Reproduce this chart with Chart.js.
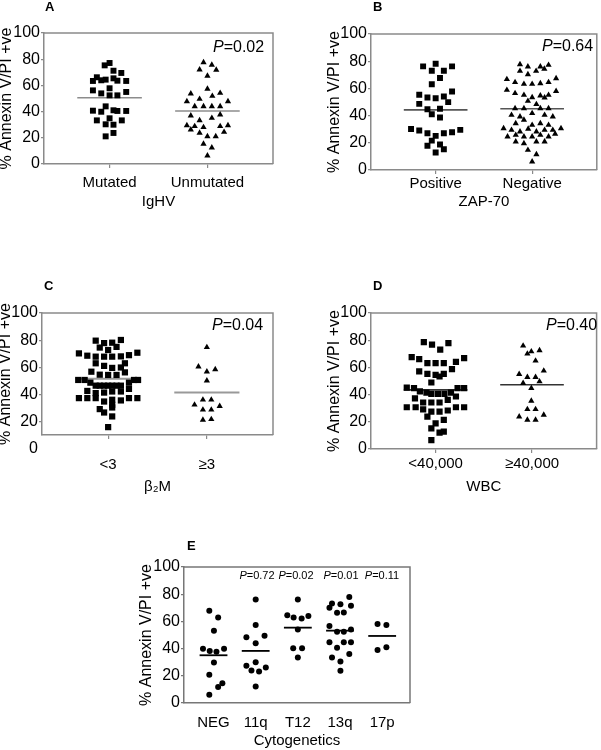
<!DOCTYPE html>
<html>
<head>
<meta charset="utf-8">
<script src="https://cdn.jsdelivr.net/npm/chart.js@4.4.1/dist/chart.umd.min.js"></script>
<style>
html,body{margin:0;padding:0;background:#fff;}
body{width:601px;height:750px;position:relative;overflow:hidden;font-family:"Liberation Sans",Arial,sans-serif;color:#000;}
canvas{position:absolute;}
.lbl{position:absolute;font-weight:bold;font-size:13px;line-height:15px;}
.pv{position:absolute;font-size:16px;line-height:18px;white-space:nowrap;}
.pvs{position:absolute;font-size:11px;line-height:13px;white-space:nowrap;transform:translateX(-50%);}
</style>
</head>
<body>
<canvas id="cA" width="304" height="215" style="left:-4px;top:0px"></canvas>
<canvas id="cB" width="301" height="215" style="left:300px;top:0px"></canvas>
<canvas id="cC" width="304" height="230" style="left:-4px;top:270px"></canvas>
<canvas id="cD" width="301" height="230" style="left:300px;top:270px"></canvas>
<canvas id="cE" width="310" height="210" style="left:130px;top:540px"></canvas>

<div class="lbl" style="left:45px;top:-1px">A</div>
<div class="lbl" style="left:373px;top:-1px">B</div>
<div class="lbl" style="left:44px;top:278px">C</div>
<div class="lbl" style="left:373px;top:278px">D</div>
<div class="lbl" style="left:187px;top:538px">E</div>

<div class="pv" style="left:213px;top:38px"><i>P</i>=0.02</div>
<div class="pv" style="left:542px;top:37px"><i>P</i>=0.64</div>
<div class="pv" style="left:212px;top:316px"><i>P</i>=0.04</div>
<div class="pv" style="left:546px;top:316px"><i>P</i>=0.40</div>
<div id="pE"></div>

<script>
// ---------- shared axis ticks ----------
const yTicks = [0, 20, 40, 60, 80, 100];

// ---------- Panel A : IgHV ----------
const catsA = ['Mutated', 'Unmutated'];
const mutatedY  = [75.3,77.1,71.2,69.5,66.2,65.4,63.4,63.9,64.4,63.6,63.4,56.2,57.8,55.0,53.9,52.4,52.4,40.7,39.9,44.0,41.0,40.5,40.5,33.3,34.9,33.3,30.3,30.0,23.7,21.1];
const mutatedDx = [-0.05,0,0.04,0.12,-0.13,0.04,-0.17,-0.085,-0.04,0.08,0.17,-0.17,0,0.17,-0.085,0,0.08,-0.17,-0.085,-0.04,0.04,0.08,0.17,-0.13,0,0.125,-0.04,0.04,0.04,-0.04];
const unmutatedY  = [77.6,75.6,72.0,71.8,67.2,57.3,53.7,54.2,51.9,49.6,47.8,47.8,44.0,44.0,44.0,44.0,36.9,35.1,37.7,33.3,29.5,28.8,28.0,28.8,29.5,26.2,23.7,24.4,21.1,21.1,15.3,12.5,6.4];
const unmutatedDx = [-0.04,0.045,-0.08,0.09,0,0,-0.17,0.13,0.05,-0.08,-0.21,0.21,-0.13,-0.04,0.045,0.13,-0.17,0.045,0.13,-0.08,-0.21,-0.13,-0.04,0.13,0.21,-0.17,-0.08,0.17,0,0.085,-0.04,0.045,0];
const meansA = [50.6, 40.5];

// ---------- Panel B : ZAP-70 ----------
const catsB = ['Positive', 'Negative'];
const positiveY  = [76.2,78.1,76.2,73.0,73.0,67.6,63.1,55.3,53.3,52.8,54.1,57.7,48.6,49.9,44.7,45.0,41.0,38.6,30.2,29.0,27.0,25.1,27.0,27.8,29.5,21.6,17.9,18.7,15.2,12.8];
const positiveDx = [-0.13,0,0.17,-0.04,0.085,0.045,-0.04,-0.17,-0.085,0,0.085,0.17,-0.17,0.13,-0.085,0.045,-0.04,0.045,-0.255,-0.17,-0.085,0,0.085,0.17,0.255,-0.04,-0.085,0.045,0.085,0];
const negativeY  = [77.7,76.0,76.0,77.2, 72.8,70.3,72.8,74.3, 66.7,64.5,63.2,63.2,63.7,64.5,67.4, 58.8,56.4,55.1,53.4,54.7,53.2,55.1,58.0, 50.7,48.3, 45.3,45.3,45.3,45.3, 40.4,39.2,41.7,40.4,39.2, 34.3,36.8,33.1,34.3,33.1, 30.6,29.4,28.2,30.2,28.2,29.4,29.4,30.6, 24.5,25.7,24.5,24.5,25.7,24.5,26.5, 20.8,19.6,20.8,20.8, 14.7,11.5, 6.1];
const negativeDx = [-0.126,-0.044,0.085,0.170, -0.126,-0.044,0.041,0.126, -0.262,-0.177,-0.085,0,0.085,0.170,0.248, -0.262,-0.177,-0.085,0,0.085,0.129,0.170,0.248, -0.044,0.044, -0.177,-0.085,0.085,0.170, -0.214,-0.126,0,0.129,0.214, -0.170,-0.085,0,0.085,0.170, -0.296,-0.214,-0.126,-0.041,0.044,0.129,0.214,0.299, -0.255,-0.170,-0.085,0,0.085,0.170,0.238, -0.170,-0.085,0.044,0.129, -0.044,0.044, 0];
const meansB = [44.2, 45.0];

// ---------- Panel C : beta2-microglobulin ----------
const catsC = ['<3', '\u22653'];
const lowB2mY  = [79.6,77.8,78.1,80.1, 74.5,72.7,75.0, 70.2,68.5,67.8,67.8,67.8,68.0,68.9,70.7, 62.9,61.0,59.5,59.8,62.9, 56.7,54.5,54.3,54.3,56.2, 50.6,50.6,48.6,46.4,46.4,46.4,46.4,46.4,46.4,46.4,48.6,50.6,50.6, 42.5,40.9,41.3,42.1,42.1,44.0, 37.2,37.2,37.2,34.7,36.0,35.5,37.2,37.2, 29.1,26.6,32.3,30.3,23.7, 15.8];
const lowB2mDx = [-0.126,-0.041,0.041,0.129, -0.085,0,0.085, -0.296,-0.211,-0.126,-0.041,0.041,0.129,0.211,0.296, -0.126,-0.041,0.041,0.129,0.170, -0.170,-0.085,0,0.085,0.170, -0.303,-0.238,-0.180,-0.126,-0.085,-0.041,0,0.041,0.085,0.129,0.211,0.262,0.303, -0.211,-0.126,-0.041,0.041,0.129,0.211, -0.296,-0.211,-0.126,-0.041,0.041,0.129,0.211,0.296, -0.085,-0.041,0.041,0.041,0.041, 0];
const highB2mY  = [74.7,60.4,56.7,58.4,50.1,36.0,36.0,32.3,28.6,28.6,31.3,21.1,21.6];
const highB2mDx = [0,-0.085,0,0.085,0,-0.04,0.045,-0.125,-0.04,0.045,0.13,-0.04,0.045];
const meansC = [51.5, 41.3];

// ---------- Panel D : WBC ----------
const catsD = ['<40,000', '\u226540,000'];
const lowWbcY  = [78.6,76.7,73.0,77.9, 67.6,66.1,63.1,63.1,63.1,64.1,66.8, 57.0,55.3,54.5,53.3,55.3,58.7, 48.9, 45.2,44.7,42.3,41.5,40.5,40.5,40.5,41.5,44.7,44.7, 37.3,34.2,34.2,34.2,36.1,38.6, 30.7,30.7,29.2,27.5,27.5,28.3,30.7,30.7, 23.8,21.4, 18.9,15.2,12.8,12.0, 6.6];
const lowWbcDx = [-0.122,-0.037,0.048,0.133, -0.248,-0.170,-0.085,0,0.085,0.211,0.296, -0.170,-0.085,0,0.041,0.085,0.170, -0.044, -0.299,-0.224,-0.163,-0.095,-0.044,0.024,0.092,0.160,0.228,0.296, -0.214,-0.129,-0.044,0.041,0.126,0.211, -0.299,-0.207,-0.129,-0.044,0.041,0.126,0.211,0.296, -0.085,0.085, 0,-0.044,0.085,0.041, -0.044];
const highWbcY  = [75.9,70.0,71.7,72.5,64.9, 55.0,52.8,52.8,57.5, 48.4,44.7,49.6, 35.4,29.2,29.2, 23.8,21.4,21.4,25.1];
const highWbcDx = [-0.092,-0.048,-0.007,0.078,0.037, -0.133,-0.048,0.037,0.122, -0.092,-0.007,0.078, -0.007,-0.048,0.037, -0.133,-0.048,0.037,0.122];
const meansD = [43.5, 47.2];

// ---------- Panel E : Cytogenetics ----------
const catsE = ['NEG', '11q', 'T12', '13q', '17p'];
const negY   = [67.8,62.9,53.2,39.8,38.3,37.6,39.8,29.8,20.7,11.7,14.6,6.1];
const negDx  = [-0.10,0.11,0.01,-0.25,-0.09,0.07,0.25,0.01,-0.10,0.11,0.21,-0.10];
const q11Y   = [76.1,57.3,48.3,49.5,43.9,27.3,30.0,23.9,23.2,26.1,12.2];
const q11Dx  = [0,0,-0.22,0.21,0,-0.22,0,-0.10,0.08,0.24,0];
const t12Y   = [76.1,64.6,62.9,62.2,63.9,54.1,40.2,40.2,33.4];
const t12Dx  = [0,-0.25,-0.10,0.09,0.25,0,-0.11,0.10,0];
const q13Y   = [78.0,73.2,72.7,70.0,71.5,66.3,66.6,56.6,52.4,52.4,54.1,44.6,44.6,44.6,40.7,33.4,30.5,36.1,23.7];
const q13Dx  = [0.22,-0.19,0.01,-0.25,0.26,-0.07,0.09,-0.25,-0.07,0.09,0.26,-0.25,0.09,0.26,-0.07,-0.19,0.01,0.22,0.01];
const p17Y   = [58.0,57.3,39.0,41.0];
const p17Dx  = [-0.11,0.10,-0.11,0.10];
const meansE = [35.1, 38.3, 55.4, 53.2, 49.3];
const pValuesE = ['', '0.72', '0.02', '0.01', '0.11'];

// ---------- rendering ----------
Chart.defaults.font.family = "'Liberation Sans', Arial, sans-serif";
Chart.defaults.color = '#000';

const boxPlugin = {
  id: 'boxFrame',
  afterDatasetsDraw(chart, args, opts) {
    const a = chart.chartArea, ctx = chart.ctx;
    ctx.save();
    ctx.strokeStyle = opts.color || '#8a8a8a';
    ctx.lineWidth = opts.width || 1.5;
    ctx.beginPath();
    ctx.moveTo(a.left, a.top);
    ctx.lineTo(a.right, a.top);
    ctx.lineTo(a.right, a.bottom);
    ctx.stroke();
    ctx.restore();
  }
};

function panel(id, o) {
  const ds = o.groups.map((g, gi) => ({
    data: g.y.map((v, i) => ({ x: gi + 1 + g.dx[i], y: v })),
    pointStyle: g.style,
    pointRadius: g.r,
    backgroundColor: '#000',
    borderColor: '#000',
    borderWidth: 0,
    showLine: false
  }));
  o.means.forEach((m, gi) => ds.push({
    data: [{ x: gi + 1 - o.hw, y: m }, { x: gi + 1 + o.hw, y: m }],
    showLine: true, pointRadius: 0, borderColor: o.meanColor, borderWidth: o.meanWidth
  }));
  const frame = o.frame || '#8a8a8a';
  new Chart(document.getElementById(id), {
    type: 'scatter',
    data: { datasets: ds },
    options: {
      responsive: false,
      animation: false,
      events: [],
      layout: { padding: { top: o.top, right: o.right, left: 0, bottom: 0 } },
      plugins: { legend: { display: false }, tooltip: { enabled: false }, boxFrame: { color: frame, width: 1.5 } },
      scales: {
        x: {
          type: 'linear', min: o.xmin, max: o.xmax, bounds: 'data',
          afterBuildTicks: s => { s.ticks = o.cats.map((c, i) => ({ value: i + 1 })); },
          afterFit: s => { s.height = o.xh; },
          ticks: { autoSkip: false, maxRotation: 0, padding: o.xpad, font: { size: 15 },
                   callback: v => o.cats[Math.round(v) - 1] || '' },
          grid: { drawOnChartArea: false, drawTicks: o.xTickMarks !== false, tickLength: 4, color: frame, lineWidth: 1.2 },
          border: { display: true, color: frame, width: 1.5 },
          title: { display: true, text: o.xTitle, font: { size: 15 }, padding: { top: 0, bottom: o.xtb } }
        },
        y: {
          type: 'linear', min: o.ymin, max: 100, bounds: 'data',
          afterBuildTicks: s => { s.ticks = yTicks.map(v => ({ value: v })); },
          afterFit: s => { s.width = o.yw; },
          ticks: { autoSkip: false, padding: 1, font: { size: 16 } },
          grid: { drawOnChartArea: false, drawTicks: true, tickLength: 3, lineWidth: 1.2,
                  color: c => (c.tick && c.tick.value < o.ymin) ? 'rgba(0,0,0,0)' : frame },
          border: { display: true, color: frame, width: 1.5 },
          title: { display: true, text: '% Annexin V/PI +ve', font: { size: 16 }, padding: { top: o.ytp, bottom: 0 } }
        }
      }
    },
    plugins: [boxPlugin]
  });
}

panel('cA', {
  cats: catsA, xTitle: 'IgHV',
  groups: [{ y: mutatedY, dx: mutatedDx, style: 'rect', r: 4.2 }, { y: unmutatedY, dx: unmutatedDx, style: 'triangle', r: 3.6 }],
  means: meansA, meanColor: '#8c8c8c', meanWidth: 1.6, hw: 0.33,
  top: 33, right: 27, yw: 48, xh: 51, xpad: 6, xtb: 4, ytp: 1,
  xmin: 0.33, xmax: 2.67, ymin: 0
});
panel('cB', {
  cats: catsB, xTitle: 'ZAP-70',
  groups: [{ y: positiveY, dx: positiveDx, style: 'rect', r: 4.2 }, { y: negativeY, dx: negativeDx, style: 'triangle', r: 3.6 }],
  means: meansB, meanColor: '#555', meanWidth: 1.6, hw: 0.33,
  top: 34, right: 1, yw: 71, xh: 45, xpad: 1, xtb: 4, ytp: 25,
  xmin: 0.33, xmax: 2.67, ymin: 0
});
panel('cC', {
  cats: catsC, xTitle: '\u03b2\u2082M',
  groups: [{ y: lowB2mY, dx: lowB2mDx, style: 'rect', r: 4.4 }, { y: highB2mY, dx: highB2mDx, style: 'triangle', r: 3.6 }],
  means: meansC, meanColor: '#999', meanWidth: 2, hw: 0.33,
  top: 43, right: 27, yw: 46, xh: 65, xpad: 17, xtb: 4, ytp: 0,
  xmin: 0.33, xmax: 2.67, ymin: 10
});
panel('cD', {
  cats: catsD, xTitle: 'WBC',
  groups: [{ y: lowWbcY, dx: lowWbcDx, style: 'rect', r: 4.4 }, { y: highWbcY, dx: highWbcDx, style: 'triangle', r: 3.6 }],
  means: meansD, meanColor: '#333', meanWidth: 1.6, hw: 0.33,
  top: 43, right: 1, yw: 71, xh: 51, xpad: 2, xtb: 4, ytp: 25,
  xmin: 0.33, xmax: 2.67, ymin: 0
});
panel('cE', {
  cats: catsE, xTitle: 'Cytogenetics',
  groups: [
    { y: negY, dx: negDx, style: 'circle', r: 3 },
    { y: q11Y, dx: q11Dx, style: 'circle', r: 3 },
    { y: t12Y, dx: t12Dx, style: 'circle', r: 3 },
    { y: q13Y, dx: q13Dx, style: 'circle', r: 3 },
    { y: p17Y, dx: p17Dx, style: 'circle', r: 3 }
  ],
  means: meansE, meanColor: '#000', meanWidth: 1.8, hw: 0.33,
  top: 27, right: 30, yw: 54, xh: 47, xpad: 11, xtb: 0, ytp: 7,
  xmin: 0.30, xmax: 5.66, ymin: 0, frame: '#777', xTickMarks: false
});

// small P-value labels above the cytogenetic groups
(function () {
  const host = document.getElementById('pE');
  const centers = [0, 257, 296, 341, 382];
  pValuesE.forEach((p, i) => {
    if (!p) return;
    const d = document.createElement('div');
    d.className = 'pvs';
    d.style.left = centers[i] + 'px';
    d.style.top = '569px';
    d.innerHTML = '<i>P</i>=' + p;
    host.appendChild(d);
  });
})();
</script>
</body>
</html>
